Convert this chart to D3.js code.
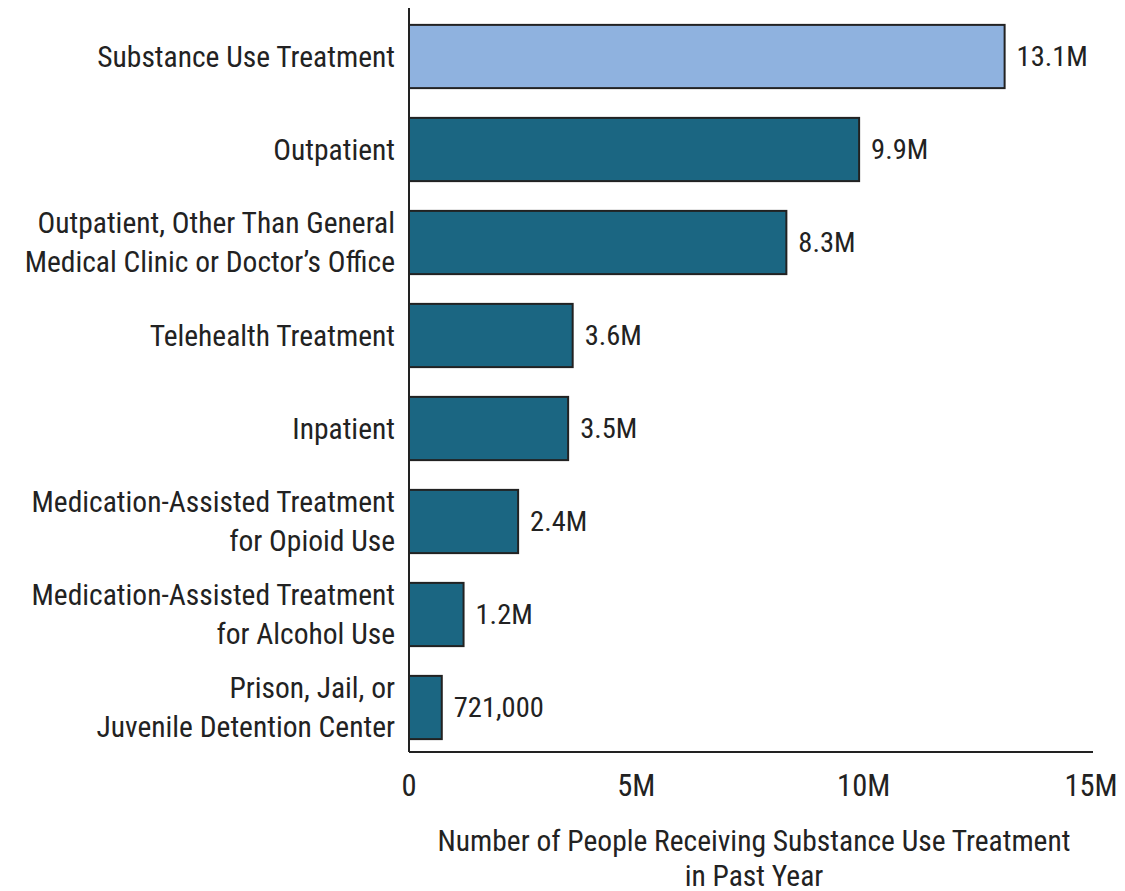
<!DOCTYPE html>
<html lang="en">
  <head>
    <meta charset="UTF-8" />
    <title>Substance Use Treatment</title>
    <script src="https://d3js.org/d3.v7.min.js"></script>
    <style>
      body { margin: 0; background: #fff; }
      text {
        font-family: "Liberation Sans Narrow", "Roboto Condensed", "Arial Narrow", sans-serif;
        fill: #222;
      }
    </style>
  </head>
  <body>
    <div id="chart"></div>
    <script>
      var categories = [
        ["Substance Use Treatment"],
        ["Outpatient"],
        ["Outpatient, Other Than General", "Medical Clinic or Doctor\u2019s Office"],
        ["Telehealth Treatment"],
        ["Inpatient"],
        ["Medication-Assisted Treatment", "for Opioid Use"],
        ["Medication-Assisted Treatment", "for Alcohol Use"],
        ["Prison, Jail, or", "Juvenile Detention Center"]
      ];
      var values = [13.1, 9.9, 8.3, 3.6, 3.5, 2.4, 1.2, 0.721];
      var valueLabels = ["13.1M", "9.9M", "8.3M", "3.6M", "3.5M", "2.4M", "1.2M", "721,000"];
      var tickValues = [0, 5, 10, 15];
      var tickLabels = ["0", "5M", "10M", "15M"];
      var axisTitle = ["Number of People Receiving Substance Use Treatment", "in Past Year"];

      var width = 1125, height = 891;
      var margin = { left: 409, right: 1091, top: 10, bottom: 752 };
      var fs = 29.5;

      var svg = d3.select("#chart").append("svg")
        .attr("width", width).attr("height", height);

      var x = d3.scaleLinear().domain([0, 15]).range([margin.left, margin.right]);
      var y = d3.scaleBand()
        .domain(d3.range(values.length))
        .range([margin.top, margin.bottom + 2])
        .paddingInner(0.32)
        .paddingOuter(0.16);

      // bars
      svg.append("g").selectAll("rect")
        .data(values)
        .enter().append("rect")
        .attr("x", x(0))
        .attr("y", (d, i) => y(i))
        .attr("width", d => x(d) - x(0))
        .attr("height", y.bandwidth())
        .attr("fill", (d, i) => i === 0 ? "#8fb2df" : "#1b6682")
        .attr("stroke", "#222")
        .attr("stroke-width", 2);

      // value labels
      svg.append("g").selectAll("text")
        .data(values)
        .enter().append("text")
        .attr("x", d => x(d) + 12)
        .attr("y", (d, i) => y(i) + y.bandwidth() / 2)
        .attr("dy", "0.35em")
        .attr("font-size", fs - 1)
        .text((d, i) => valueLabels[i]);

      // category labels
      var cat = svg.append("g").selectAll("text")
        .data(categories)
        .enter().append("text")
        .attr("text-anchor", "end")
        .attr("font-size", fs)
        .attr("y", (d, i) => y(i) + y.bandwidth() / 2);
      cat.each(function (lines) {
        var t = d3.select(this);
        var lh = 39;
        var off = -(lines.length - 1) * lh / 2;
        lines.forEach((l, j) => {
          t.append("tspan")
            .attr("x", 395)
            .attr("dy", j === 0 ? (off / fs + 0.35) + "em" : lh)
            .text(l);
        });
      });

      // axes lines
      svg.append("line")
        .attr("x1", margin.left).attr("x2", margin.left)
        .attr("y1", margin.top - 2).attr("y2", margin.bottom)
        .attr("stroke", "#222").attr("stroke-width", 2);
      svg.append("line")
        .attr("x1", margin.left).attr("x2", margin.right + 2)
        .attr("y1", margin.bottom).attr("y2", margin.bottom)
        .attr("stroke", "#222").attr("stroke-width", 2);

      // tick labels
      svg.append("g").selectAll("text")
        .data(tickValues)
        .enter().append("text")
        .attr("x", d => x(d))
        .attr("y", 796)
        .attr("text-anchor", "middle")
        .attr("font-size", fs + 1)
        .text((d, i) => tickLabels[i]);

      // axis title
      svg.append("g").selectAll("text")
        .data(axisTitle)
        .enter().append("text")
        .attr("x", 754)
        .attr("y", (d, i) => 851 + i * 35)
        .attr("text-anchor", "middle")
        .attr("font-size", fs)
        .text(d => d);
    </script>
  </body>
</html>
